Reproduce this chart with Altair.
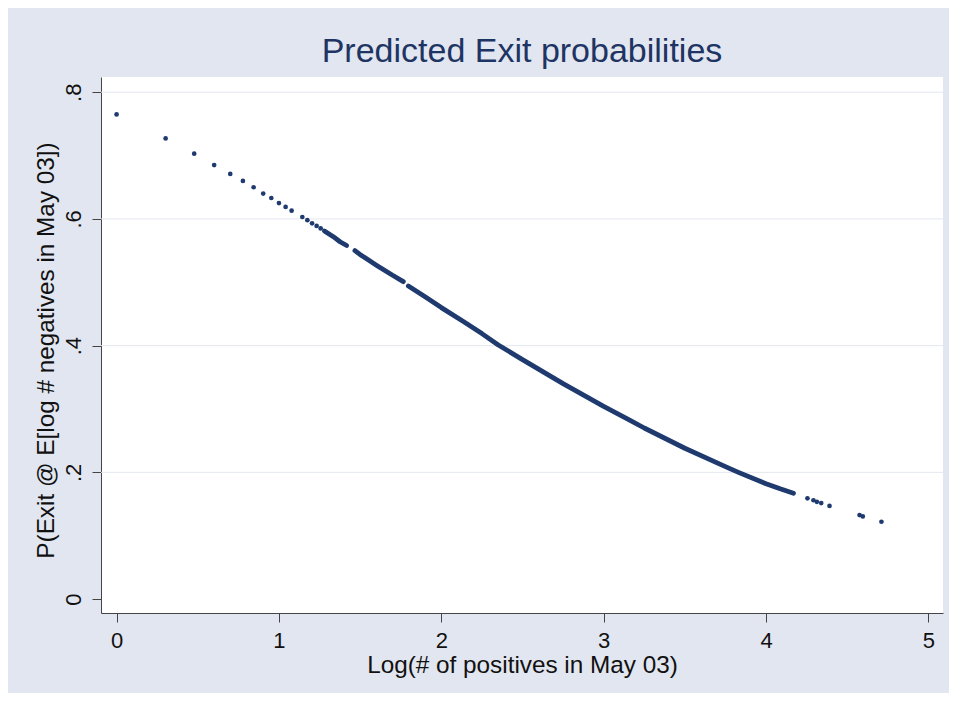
import altair as alt
import pandas as pd

# Sparse (individually visible) predicted points
pt_x = [0.000, 0.302, 0.478, 0.601, 0.700, 0.778, 0.844, 0.903, 0.953, 1.000,
        1.041, 1.078, 1.144, 1.175, 1.204, 1.232, 1.257,
        4.255, 4.292, 4.313, 4.340, 4.391, 4.576, 4.596, 4.711]
pt_y = [0.765, 0.727, 0.703, 0.685, 0.671, 0.660, 0.650, 0.640, 0.633, 0.625,
        0.619, 0.613, 0.603, 0.598, 0.593, 0.589, 0.585,
        0.159, 0.156, 0.1535, 0.1515, 0.147, 0.1325, 0.1305, 0.122]

# Dense runs of points (drawn as continuous traces)
dense_x = [1.280, 1.304, 1.335, 1.376, 1.417,
           1.468, 1.499, 1.540, 1.600, 1.700, 1.766,
           1.797, 1.900, 2.000, 2.136, 2.250, 2.351, 2.500, 2.750, 3.000,
           3.163, 3.250, 3.500, 3.750, 3.830, 4.000, 4.087, 4.169]
dense_y = [0.581, 0.577, 0.572, 0.564, 0.558,
           0.550, 0.544, 0.537, 0.527, 0.511, 0.501,
           0.494, 0.477, 0.460, 0.438, 0.419, 0.401, 0.378, 0.340, 0.304,
           0.282, 0.270, 0.238, 0.209, 0.200, 0.182, 0.174, 0.167]
dense_run = ["a"] * 5 + ["b"] * 6 + ["c"] * 17

y_ticks = [0, 0.2, 0.4, 0.6, 0.8]
grid_vals = [0.2, 0.4, 0.6, 0.8]
x_ticks = [0, 1, 2, 3, 4, 5]

NAVY = "#1f3a6e"
FONT = "Liberation Sans"

pts = pd.DataFrame({"x": pt_x, "y": pt_y})
dense = pd.DataFrame({"x": dense_x, "y": dense_y, "run": dense_run})
grid = pd.DataFrame({"g": grid_vals})

xs = alt.Scale(domain=[-0.096, 5.09], nice=False, zero=False)
ys = alt.Scale(domain=[-0.022, 0.824], nice=False, zero=False)

x_axis = alt.Axis(values=x_ticks, grid=False, title="Log(# of positives in May 03)",
                  format="d",
                  labelFont=FONT, labelFontSize=22, labelColor="#111111",
                  labelBaseline="alphabetic", labelPadding=25, labelAngle=0,
                  tickSize=9, tickColor="#444444", domainColor="#444444",
                  titleFont=FONT, titleFontSize=24.3, titleFontWeight="normal",
                  titleColor="#111111", titleBaseline="alphabetic", titleY=59, titleX=421)
y_axis = alt.Axis(values=y_ticks, grid=False,
                  title="P(Exit @ E[log # negatives in May 03])",
                  labelExpr="datum.value == 0 ? '0' : replace(format(datum.value, '.1f'), '0.', '.')",
                  labelFont=FONT, labelFontSize=22, labelColor="#111111",
                  labelAngle=270, labelAlign="center", labelBaseline="alphabetic",
                  labelPadding=12, tickSize=9, tickColor="#444444", domainColor="#444444",
                  titleFont=FONT, titleFontSize=24.3, titleFontWeight="normal",
                  titleColor="#111111", titleAngle=270, titleBaseline="alphabetic",
                  titleX=-48, titleY=273, titleAlign="center")

gridlayer = alt.Chart(grid).mark_rule(color="#E4E7F0", strokeWidth=1).encode(
    y=alt.Y("g:Q", scale=ys, axis=y_axis)
)

line = alt.Chart(dense).mark_line(color=NAVY, strokeWidth=4.8, strokeCap="round",
                                  strokeJoin="round").encode(
    x=alt.X("x:Q", scale=xs, axis=x_axis),
    y=alt.Y("y:Q", scale=ys),
    detail="run:N",
    order="x:Q",
)

dots = alt.Chart(pts).mark_circle(color=NAVY, size=22, opacity=1).encode(
    x=alt.X("x:Q", scale=xs),
    y=alt.Y("y:Q", scale=ys),
)

chart = alt.layer(gridlayer, line, dots).properties(
    width=842, height=536,
    autosize="none",
    padding={"left": 93, "top": 69, "right": 6, "bottom": 80},
    background="#E2E6F0",
    title=alt.TitleParams("Predicted Exit probabilities", font=FONT, fontSize=34,
                          fontWeight="normal", color="#1e3463", anchor="middle",
                          baseline="alphabetic", offset=14, dy=33),
).configure_view(fill="white", stroke=None)

chart.save("out.html", embed_options={"renderer": "svg", "actions": False})
